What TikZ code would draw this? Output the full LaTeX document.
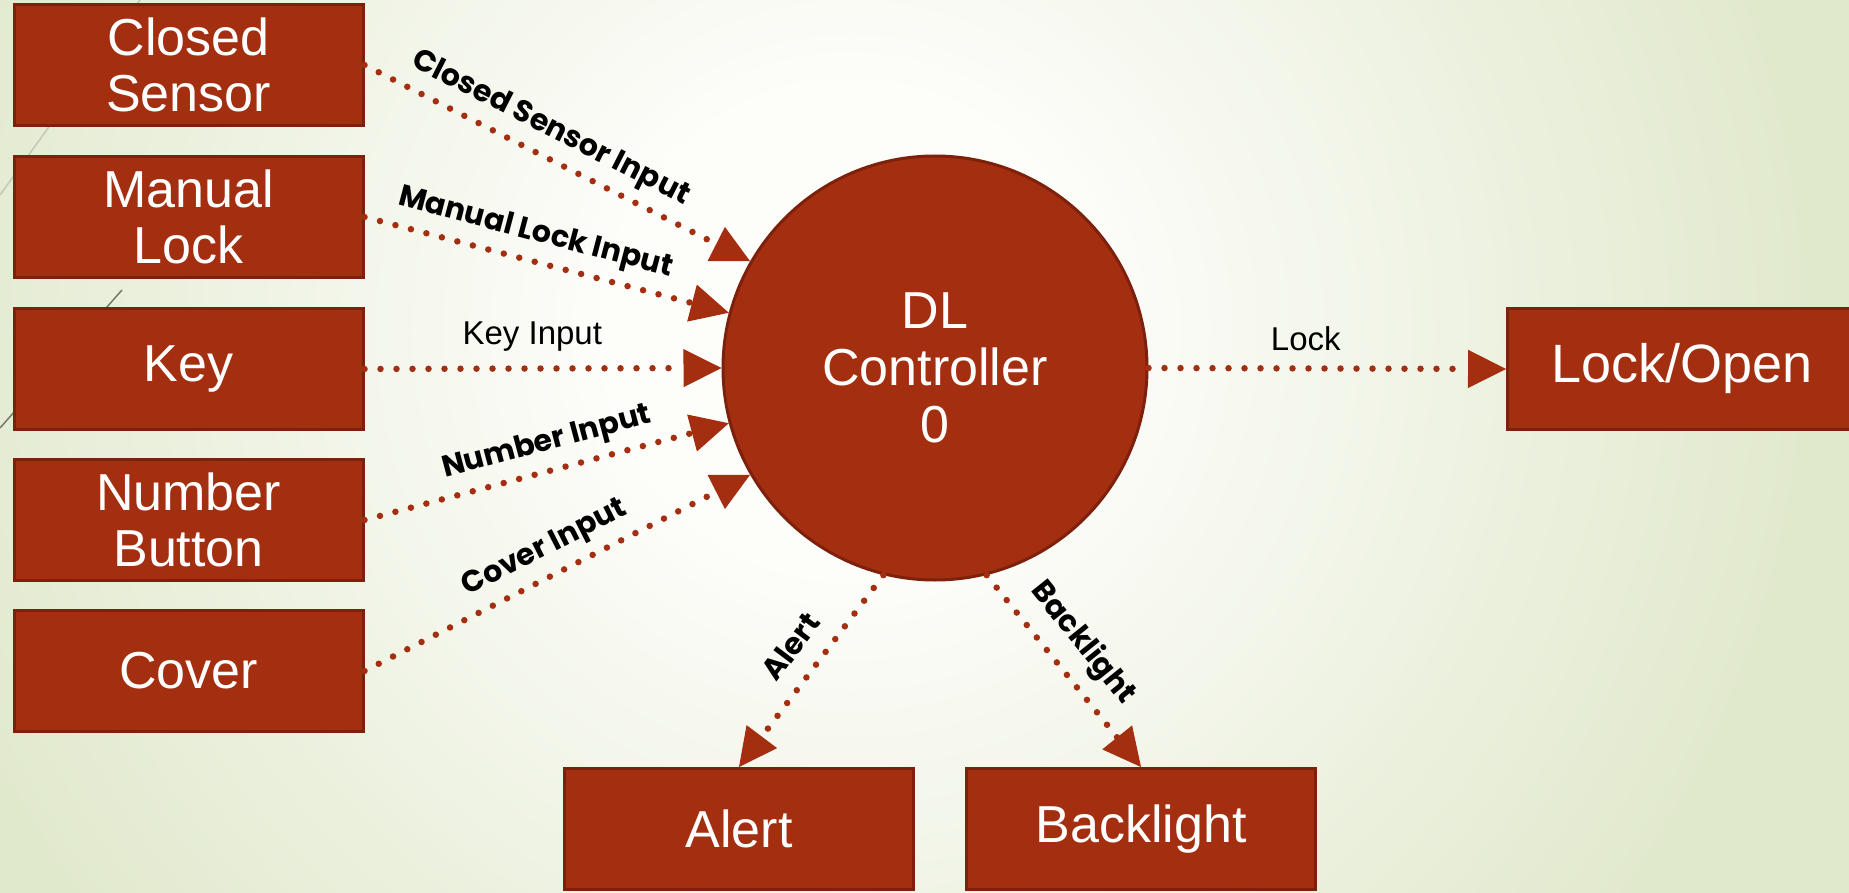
\documentclass[tikz,border=0pt]{standalone}
\usepackage{fontspec}
\setmainfont{Liberation Sans}
\newfontfamily\gothic{Poppins}
\usetikzlibrary{arrows.meta}
\definecolor{boxred}{RGB}{164,46,16}
\definecolor{boxedge}{RGB}{125,33,12}
\definecolor{bggreen}{RGB}{225,233,205}
\definecolor{bgwhite}{RGB}{253,253,250}
\definecolor{lineA}{RGB}{196,200,182}
\definecolor{lineB}{RGB}{120,120,104}
\pgfdeclareradialshading{bgshade}{\pgfpointorigin}{color(0bp)=(bgwhite); color(6bp)=(bgwhite); color(24bp)=(bggreen); color(50bp)=(bggreen)}
\begin{document}
\begin{tikzpicture}[x=1pt,y=-1pt,
  box/.style={draw=boxedge, line width=3pt, fill=boxred, text=white,
    minimum width=349pt, minimum height=121pt, inner sep=0pt, align=center,
    font=\fontsize{52}{56}\selectfont},
  circ/.style={circle, draw=boxedge, line width=3pt, fill=boxred, text=white,
    minimum size=424pt, inner sep=0pt, align=center,
    font=\fontsize{52}{57}\selectfont},
  flow/.style={draw=boxred, line width=6.5pt, line cap=round,
    dash pattern=on 0pt off 16pt,
    -{Triangle[length=38pt,width=38pt,line width=1pt]}},
  lbl/.style={font=\gothic\bfseries\fontsize{30}{32}\selectfont, text=black, inner sep=0pt, sloped, above=9pt},
  plbl/.style={font=\fontsize{33}{36}\selectfont, text=black, inner sep=0pt, above=14pt},
  bgl/.style={line width=1.5pt}
]
\useasboundingbox (0,0) rectangle (1849,893);
\fill[bggreen] (0,0) rectangle (1849,893);
\begin{scope}
  \clip (0,0) rectangle (1849,893);
  \shade[shading=bgshade] (850,330) circle (1000pt);
\end{scope}
\draw[bgl, lineA] (140,0) -- (0,195);
\draw[bgl, lineB] (122,290) -- (0,428);

\node[box] (cs) at (188.5,65) {Closed\\Sensor};
\node[box] (ml) at (188.5,217) {Manual\\Lock};
\node[box] (key) at (188.5,369) {Key};
\node[box] (nb) at (188.5,520) {Number\\Button};
\node[box] (cv) at (188.5,671) {Cover};
\node[box, font=\fontsize{54}{58}\selectfont] (lo) at (1682,369) {Lock/Open};
\node[box] (al) at (739,829) {Alert};
\node[box] (bl) at (1141,829) {Backlight};
\node[circ] (ctrl) at (935,368) {DL\\Controller\\0};

\draw[flow] (cs.east) -- (ctrl.150) node[lbl, pos=.45] {Closed Sensor Input};
\draw[flow] (ml.east) -- (ctrl.165) node[lbl, pos=.45] {Manual Lock Input};
\draw[flow] (key.east) -- (ctrl.west) node[plbl, pos=.47] {Key Input};
\draw[flow] (nb.east) -- (ctrl.195) node[lbl, pos=.52] {Number Input};
\draw[flow] (cv.east) -- (ctrl.210) node[lbl, pos=.5] {Cover Input};
\draw[flow] (ctrl.east) -- (lo.west) node[plbl, pos=.44] {Lock};
\draw[flow] (ctrl.256) -- (al.north) node[lbl, pos=.47, above=8pt] {Alert};
\draw[flow] (ctrl.284) -- (bl.north) node[lbl, pos=.46, above=4pt] {Backlight};
\end{tikzpicture}
\end{document}
